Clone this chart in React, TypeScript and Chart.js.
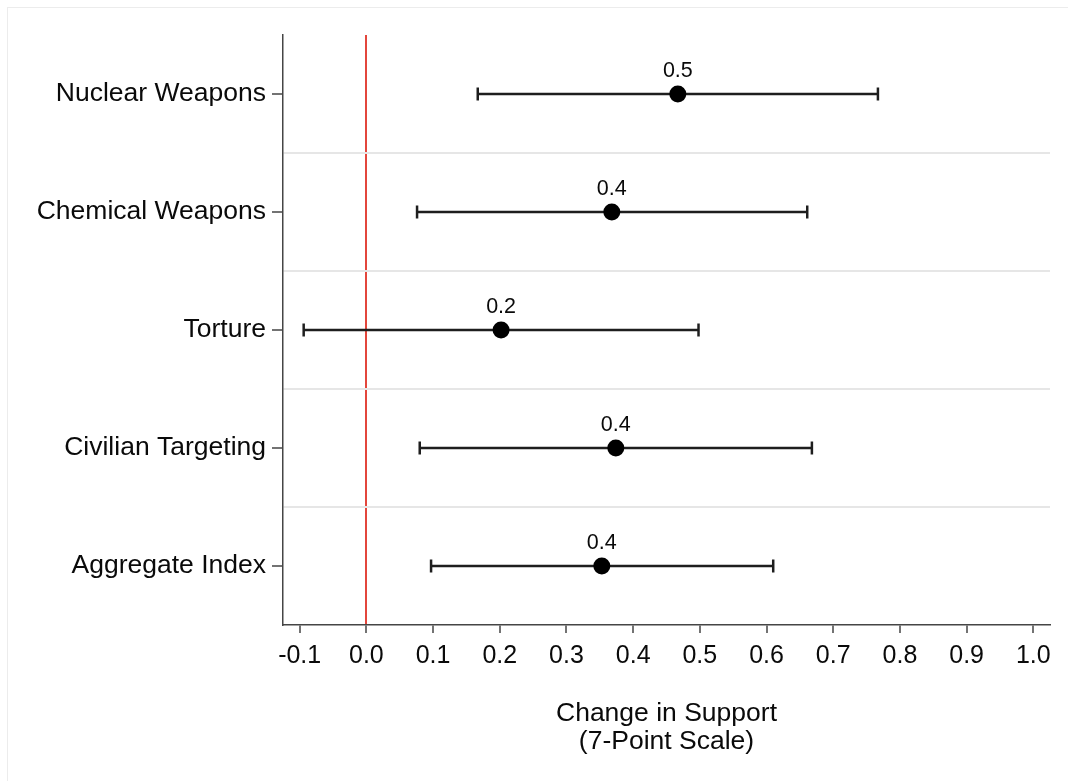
import { useEffect, useRef } from "react";
import { Chart, registerables } from "chart.js";

Chart.register(...registerables);

const categories = [
  "Nuclear Weapons",
  "Chemical Weapons",
  "Torture",
  "Civilian Targeting",
  "Aggregate Index",
];
const estimates = [0.467, 0.368, 0.202, 0.374, 0.353];
const lowerBounds = [0.167, 0.076, -0.094, 0.08, 0.097];
const upperBounds = [0.767, 0.661, 0.498, 0.668, 0.61];
const pointLabels = ["0.5", "0.4", "0.2", "0.4", "0.4"];
const xTitle = ["Change in Support", "(7-Point Scale)"];

const FONT = '"Liberation Sans", Arial, Helvetica, sans-serif';
const TEXT = "#0a0a0a";
const AXIS = "#454545";
const SEP = "#e6e6e6";
const RED = "#e3463c";
const CLEAR = "rgba(0,0,0,0)";

const valueLabelPlugin = {
  id: "valueLabels",
  afterDatasetsDraw(chart: any) {
    const meta = chart.getDatasetMeta(0);
    const ctx = chart.ctx;
    ctx.save();
    ctx.font = `21.5px ${FONT}`;
    ctx.fillStyle = TEXT;
    ctx.textAlign = "center";
    ctx.textBaseline = "alphabetic";
    meta.data.forEach((el: any, i: number) => {
      ctx.fillText(pointLabels[i], el.x, el.y - 17);
    });
    ctx.restore();
  },
};

export default function App() {
  const ref = useRef<HTMLCanvasElement>(null);

  useEffect(() => {
    if (!ref.current) return;
    const intervalSets = categories.map((_, i) => ({
      data: [
        { x: lowerBounds[i], y: i },
        { x: upperBounds[i], y: i },
      ],
      showLine: true,
      borderColor: "#1e1e1e",
      borderWidth: 2.5,
      pointStyle: "line",
      pointRotation: 90,
      pointRadius: 6.5,
      pointBorderColor: "#1e1e1e",
      pointBorderWidth: 2.5,
      fill: false,
    }));
    const chart = new Chart(ref.current, {
      type: "scatter",
      data: {
        datasets: [
          {
            data: estimates.map((x, i) => ({ x, y: i })),
            pointRadius: 8.5,
            pointBackgroundColor: "#000000",
            pointBorderWidth: 0,
            showLine: false,
          } as any,
          ...(intervalSets as any[]),
        ],
      },
      options: {
        responsive: false,
        animation: false,
        events: [],
        layout: { padding: { top: 26, right: 18, bottom: 17, left: 0 } },
        plugins: {
          legend: { display: false },
          tooltip: { enabled: false },
        },
        scales: {
          x: {
            type: "linear",
            min: -0.125,
            max: 1.025,
            afterFit: (scale: any) => {
              scale.height = 131;
            },
            border: { display: true, color: AXIS, width: 1.5 },
            grid: {
              drawOnChartArea: true,
              color: (ctx: any) =>
                ctx.tick && Math.abs(ctx.tick.value) < 1e-9 ? RED : CLEAR,
              lineWidth: 2,
              tickColor: AXIS,
              tickWidth: 1.5,
              tickLength: 8,
            },
            ticks: {
              stepSize: 0.1,
              includeBounds: false,
              autoSkip: false,
              maxRotation: 0,
              padding: 8,
              color: TEXT,
              font: { family: FONT, size: 25 },
              callback: (v: any) => Number(v).toFixed(1),
            },
            title: {
              display: true,
              text: xTitle,
              color: TEXT,
              font: { family: FONT, size: 26.5, lineHeight: 1.06 },
              padding: 0,
            },
          },
          y: {
            type: "linear",
            min: -0.5,
            max: 4.5,
            reverse: true,
            afterFit: (scale: any) => {
              scale.width = 274;
            },
            border: { display: true, color: AXIS, width: 1.5 },
            grid: {
              drawOnChartArea: true,
              color: (ctx: any) => {
                const v = ctx.tick ? ctx.tick.value : 0;
                return !Number.isInteger(v) && v > 0 && v < 4 ? SEP : CLEAR;
              },
              lineWidth: 2,
              tickColor: (ctx: any) =>
                ctx.tick && Number.isInteger(ctx.tick.value) ? AXIS : CLEAR,
              tickWidth: 1.5,
              tickLength: 11,
            },
            ticks: {
              stepSize: 0.5,
              autoSkip: false,
              padding: 6,
              color: TEXT,
              font: { family: FONT, size: 26.5 },
              callback: (v: any) =>
                Number.isInteger(v) ? categories[v] ?? "" : "",
            },
          },
        },
      },
      plugins: [valueLabelPlugin],
    } as any);
    return () => chart.destroy();
  }, []);

  return (
    <div style={{ width: 1060, height: 765, background: "#ffffff" }}>
      <div
        style={{
          position: "fixed",
          left: 7,
          top: 7,
          width: 3000,
          height: 3000,
          borderTop: "1px solid #ececec",
          borderLeft: "1px solid #ececec",
          pointerEvents: "none",
        }}
      />
      <canvas ref={ref} width={1059} height={764} style={{ display: "block", marginLeft: 1, marginTop: 1, position: "relative" }} />
    </div>
  );
}
